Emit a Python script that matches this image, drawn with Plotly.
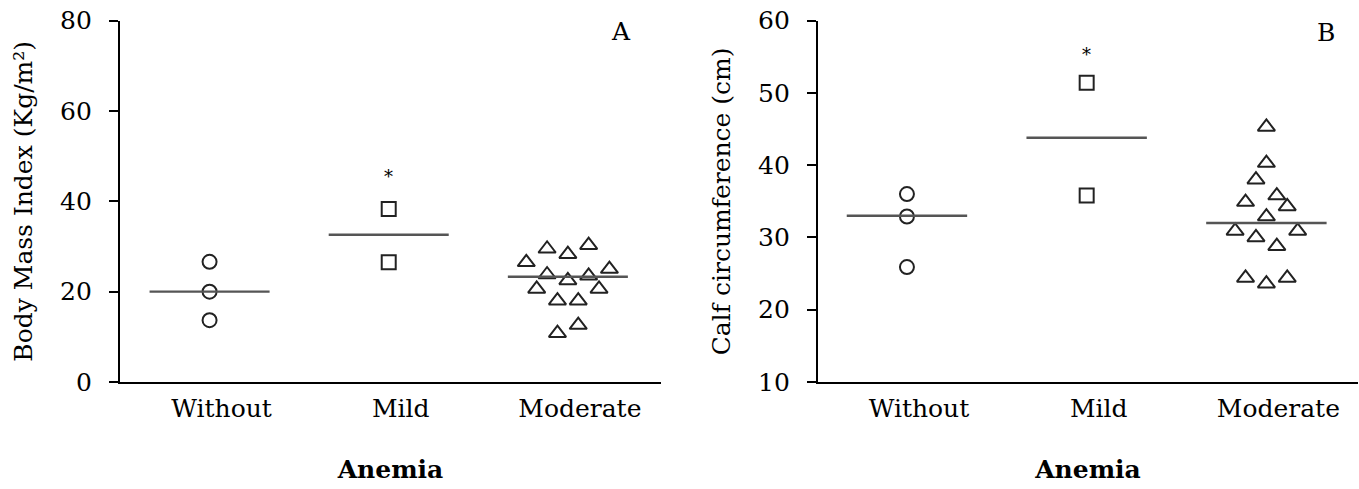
import plotly.graph_objects as go

# ---------------- data ----------------
categories = ["Without", "Mild", "Moderate"]

# Panel A: Body Mass Index (Kg/m²)
bmi_without = [26.6, 20.0, 13.7]
bmi_mild = [38.3, 26.5]
bmi_moderate = [26.5, 29.5, 28.3, 30.3, 23.8, 22.5, 23.5, 25.0, 20.6, 20.6, 18.0, 18.0, 12.6, 10.8]
bmi_moderate_steps = [-4, -2, 0, 2, -2, 0, 2, 4, -3, 3, -1, 1, 1, -1]
bmi_center_lines = [20.0, 32.6, 23.3]
bmi_star = 45.8

# Panel B: Calf circumference (cm)
calf_without = [36.0, 32.9, 25.9]
calf_mild = [51.4, 35.8]
calf_moderate = [45.3, 40.3, 38.0, 35.8, 34.9, 34.3, 32.9, 30.9, 30.9, 30.0, 28.8, 24.4, 23.6, 24.4]
calf_moderate_steps = [0, 0, -1, 1, -2, 2, 0, -3, 3, -1, 1, -2, 0, 2]
calf_center_lines = [33.0, 43.8, 32.0]
calf_star = 55.5

JITTER = 0.058
HALF = 0.335
FONT = "DejaVu Serif"
MARK_COL = "#222222"
LINE_COL = "#555555"

fig = go.Figure()


def add_panel(xa, ya, without, mild, moderate, steps, lines):
    cpos = [1, 2, 3]
    fig.add_trace(go.Scatter(
        x=[cpos[0]] * len(without), y=without, mode="markers", xaxis=xa, yaxis=ya,
        marker=dict(symbol="circle", size=14, color="white", line=dict(color=MARK_COL, width=2)),
        showlegend=False, hoverinfo="y"))
    fig.add_trace(go.Scatter(
        x=[cpos[1]] * len(mild), y=mild, mode="markers", xaxis=xa, yaxis=ya,
        marker=dict(symbol="square", size=14, color="white", line=dict(color=MARK_COL, width=2)),
        showlegend=False, hoverinfo="y"))
    fig.add_trace(go.Scatter(
        x=[cpos[2] + s * JITTER for s in steps], y=moderate, mode="markers", xaxis=xa, yaxis=ya,
        marker=dict(symbol="triangle-up", size=15, color="white", line=dict(color=MARK_COL, width=2)),
        showlegend=False, hoverinfo="y"))
    lx, ly = [], []
    for c, v in zip(cpos, lines):
        lx += [c - HALF, c + HALF, None]
        ly += [v, v, None]
    fig.add_trace(go.Scatter(
        x=lx, y=ly, mode="lines", xaxis=xa, yaxis=ya,
        line=dict(color=LINE_COL, width=2.4), showlegend=False, hoverinfo="skip"))


add_panel("x", "y", bmi_without, bmi_mild, bmi_moderate, bmi_moderate_steps, bmi_center_lines)
add_panel("x2", "y2", calf_without, calf_mild, calf_moderate, calf_moderate_steps, calf_center_lines)

ydom = [0.2188, 0.9577]

xcommon = dict(
    tickmode="array", tickvals=[1, 2, 3], ticktext=categories, automargin=False,
    showline=True, linecolor="black", linewidth=2.2, ticks="", ticklen=0,
    showgrid=False, zeroline=False,
    tickfont=dict(family=FONT, size=25, color="black"),
    ticklabelstandoff=3, ticklabelshift=12,
    title=dict(text="<b>Anemia</b>", font=dict(family=FONT, size=25, color="black"), standoff=38),
)
ycommon = dict(
    showline=True, linecolor="black", linewidth=2.2, ticks="outside", ticklen=9,
    tickwidth=2, tickcolor="black", showgrid=False, zeroline=False, automargin=False,
    tickfont=dict(family=FONT, size=25, color="black"),
    ticklabelstandoff=12,
)

fig.update_layout(
    width=1359, height=489,
    margin=dict(l=0, r=0, t=0, b=0, autoexpand=False),
    paper_bgcolor="white", plot_bgcolor="white",
    xaxis=dict(domain=[0.0883, 0.4864], range=[0.5, 3.52], anchor="y", **xcommon),
    yaxis=dict(domain=ydom, range=[0, 80], tickvals=[0, 20, 40, 60, 80], anchor="x",
               title=dict(text="Body Mass Index (Kg/m²)", font=dict(family=FONT, size=25, color="black"), standoff=20),
               **ycommon),
    xaxis2=dict(domain=[0.6019, 0.9993], range=[0.505, 3.51], anchor="y2", **xcommon),
    yaxis2=dict(domain=ydom, range=[10, 60], tickvals=[10, 20, 30, 40, 50, 60], anchor="x2",
                title=dict(text="Calf circumference (cm)", font=dict(family=FONT, size=25, color="black"), standoff=20),
                **ycommon),
    showlegend=False,
)

fig.add_annotation(x=2, y=bmi_star, xref="x", yref="y", text="*", showarrow=False,
                   xanchor="center", yanchor="middle",
                   font=dict(family=FONT, size=18, color="black"), yshift=-1)
fig.add_annotation(x=2, y=calf_star, xref="x2", yref="y2", text="*", showarrow=False,
                   xanchor="center", yanchor="middle",
                   font=dict(family=FONT, size=18, color="black"), yshift=-1)
fig.add_annotation(x=0.926, y=0.969, xref="x domain", yref="y domain", text="A", showarrow=False,
                   xanchor="center", yanchor="middle",
                   font=dict(family=FONT, size=25, color="black"))
fig.add_annotation(x=0.941, y=0.966, xref="x2 domain", yref="y2 domain", text="B", showarrow=False,
                   xanchor="center", yanchor="middle",
                   font=dict(family=FONT, size=25, color="black"))

fig.write_html("out.html")
